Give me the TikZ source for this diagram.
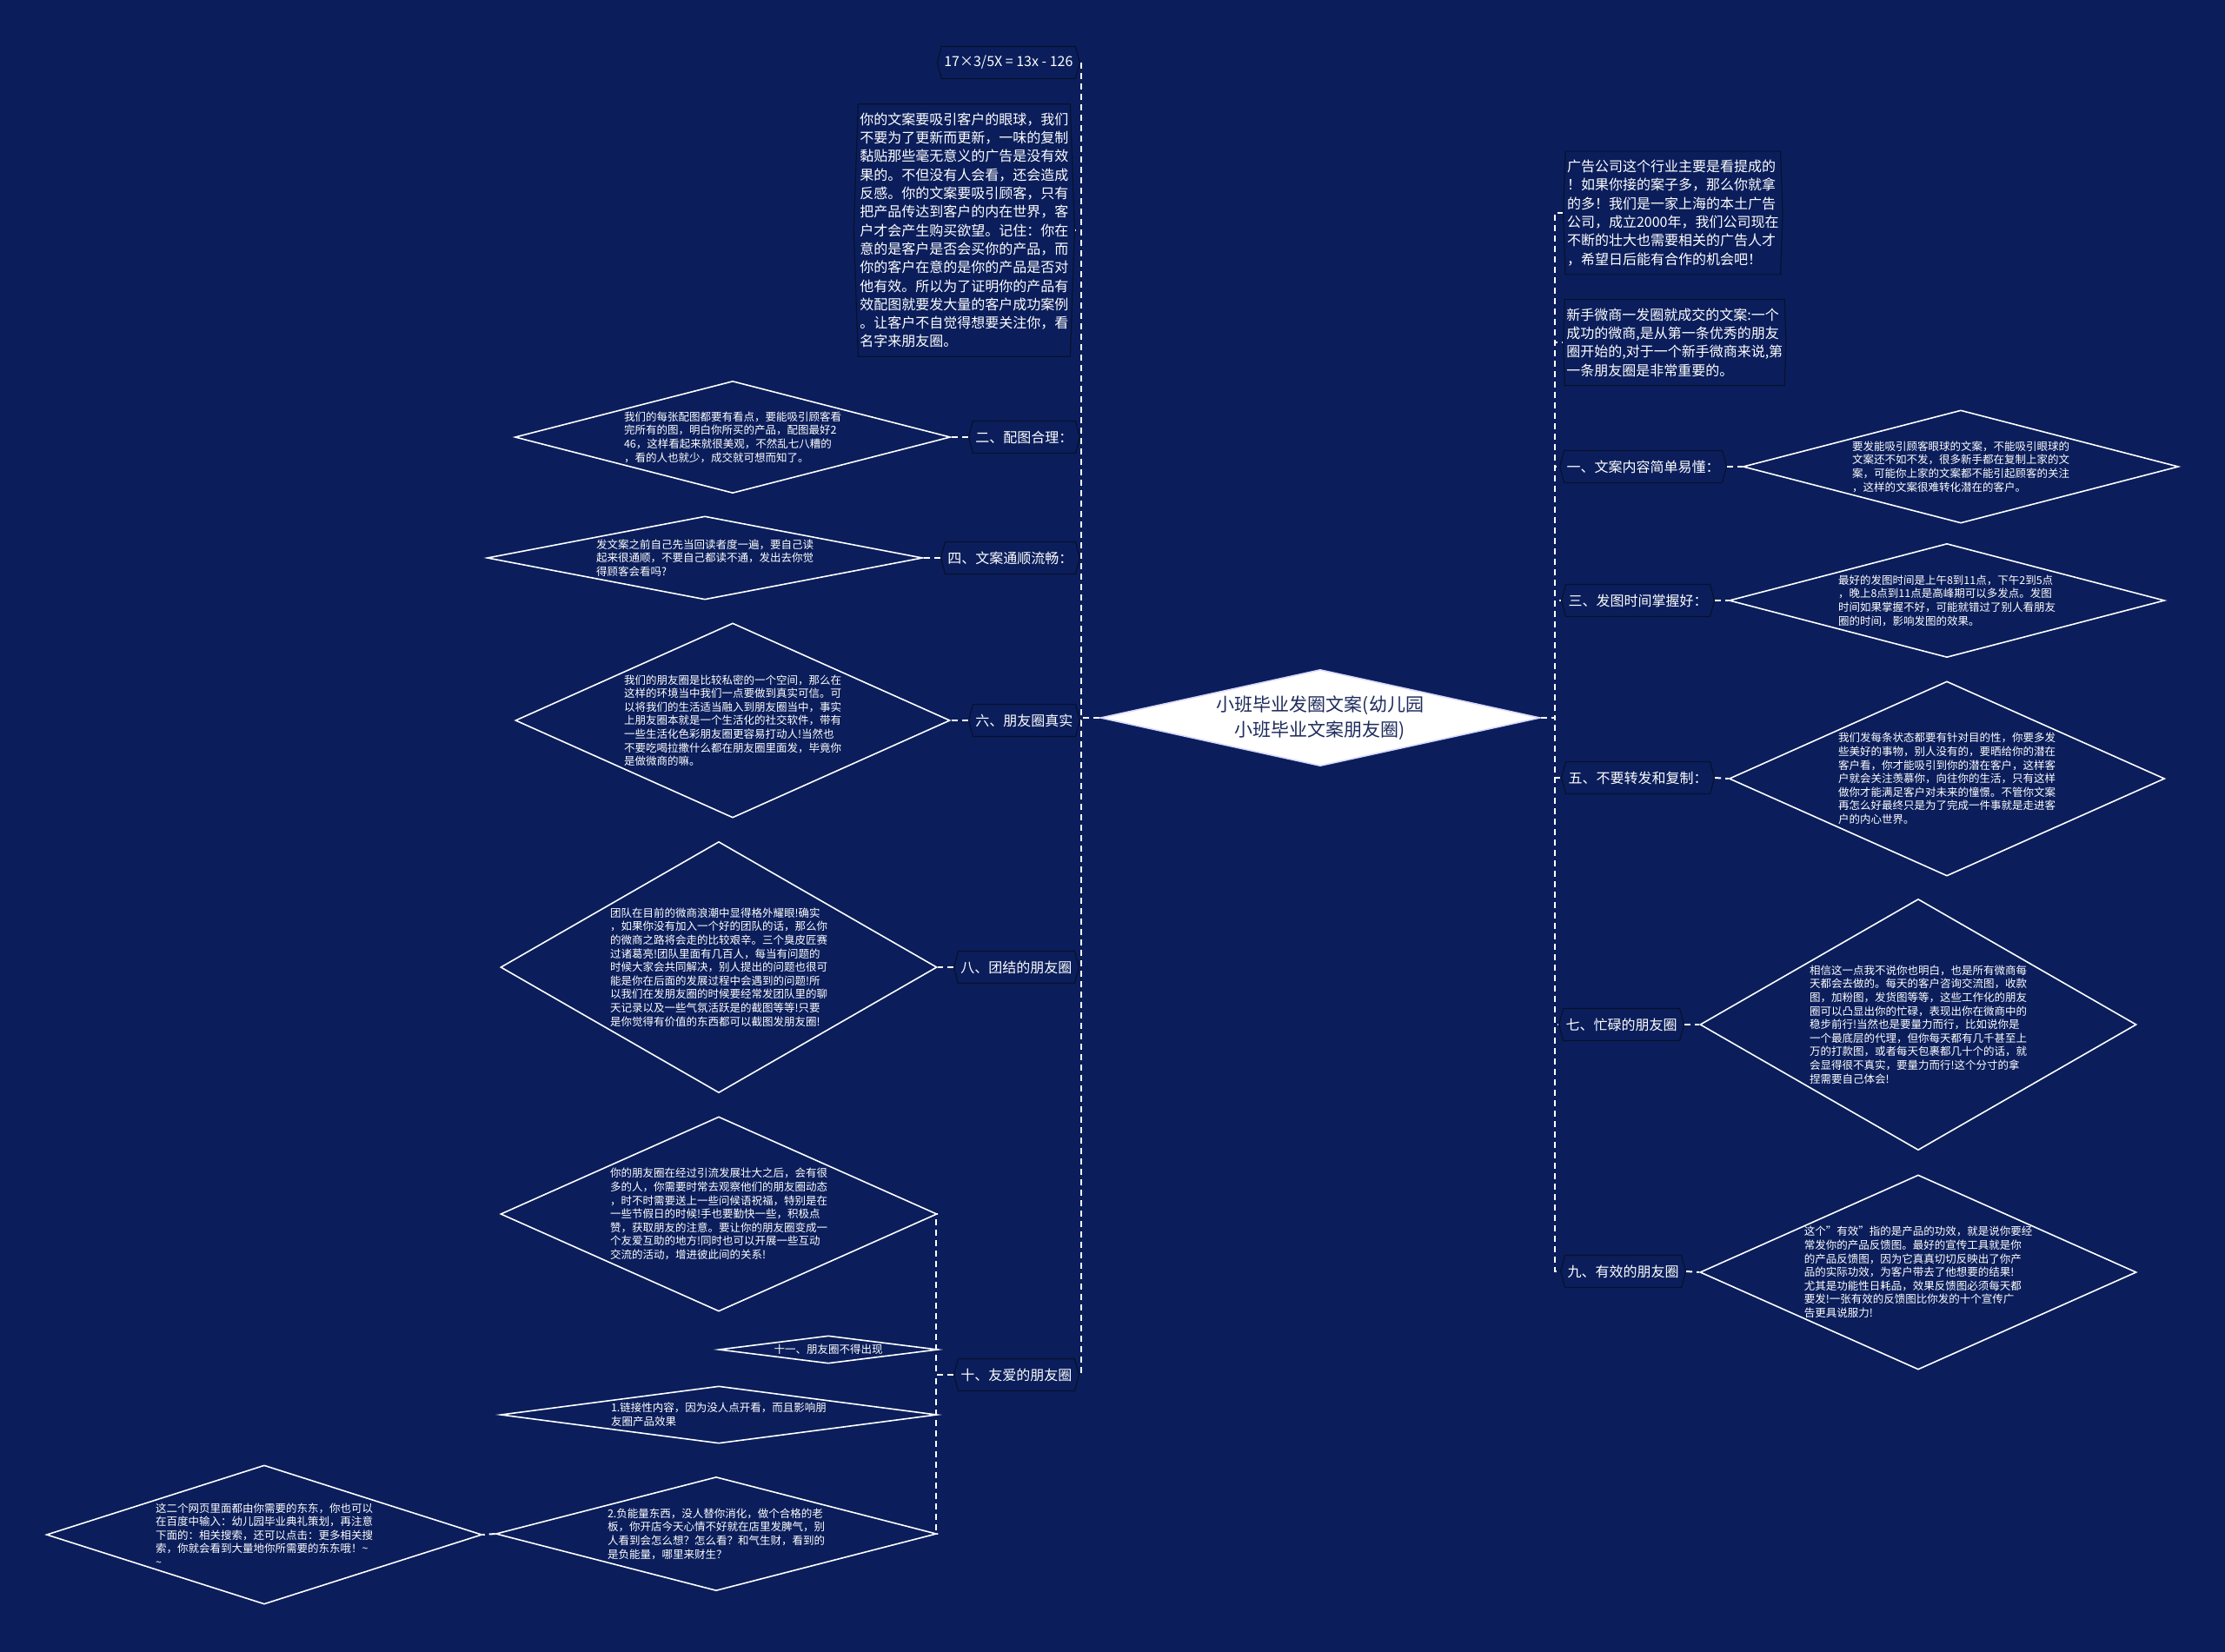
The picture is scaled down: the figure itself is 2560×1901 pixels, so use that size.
\documentclass[tikz,border=0pt]{standalone}
\usepackage{fontspec}
\setmainfont{Noto Sans CJK SC}
\usetikzlibrary{shapes.geometric,shapes.symbols}
\definecolor{bg}{HTML}{0B1E5B}
\definecolor{boxb}{HTML}{07112F}
\definecolor{roottxt}{HTML}{1E2B5C}
\begin{document}
\begin{tikzpicture}[x=0.5pt,y=-0.5pt,
 conn/.style={draw=white,line width=1pt,dash pattern=on 3.5pt off 2.5pt},
 lab/.style={shape=signal,signal to=west and east,signal pointer angle=150,draw=boxb,line width=0.6pt,fill=bg,text=white,font=\fontsize{8}{10}\selectfont,inner xsep=1.5pt,inner ysep=0pt,minimum height=18.5pt},
 bigbox/.style={shape=signal,signal to=west and east,signal pointer angle=176,draw=boxb,line width=0.6pt,fill=bg,text=white,align=left,font=\fontsize{8}{10.65}\selectfont,inner xsep=1pt,inner ysep=5pt},
 leaf/.style={shape=diamond,draw=white,line width=0.8pt,inner sep=0pt},
 leaft/.style={text=white,align=left,font=\fontsize{6.25}{7.8}\selectfont,inner sep=0pt},
 rootd/.style={shape=diamond,fill=white,draw=white!85!blue,line width=0.8pt,inner sep=0pt,minimum width=253pt,minimum height=55.5pt},
]
\fill[bg] (0,0) rectangle (2560,1901);
\useasboundingbox (0,0) rectangle (2560,1901);

% root
\node[rootd] (root) at (1519,826) {};
\node[text=roottxt,align=center,font=\fontsize{10.5}{14.5}\selectfont] at (root) {小班毕业发圈文案(幼儿园\\小班毕业文案朋友圈)};

% ---------- left side ----------
\node[lab,anchor=east] (eq) at (1243,72) {17×3/5X = 13x - 126};
\node[bigbox,anchor=east] (bigL) at (1237,265) {你的文案要吸引客户的眼球，我们\\不要为了更新而更新，一味的复制\\黏贴那些毫无意义的广告是没有效\\果的。不但没有人会看，还会造成\\反感。你的文案要吸引顾客，只有\\把产品传达到客户的内在世界，客\\户才会产生购买欲望。记住：你在\\意的是客户是否会买你的产品，而\\你的客户在意的是你的产品是否对\\他有效。所以为了证明你的产品有\\效配图就要发大量的客户成功案例\\。让客户不自觉得想要关注你，看\\名字来朋友圈。};

\node[lab,anchor=east] (l2) at (1243,503) {二、配图合理：};
\node[leaf,minimum width=250.5pt,minimum height=64.5pt] (d2) at (843,503) {};
\node[leaft] at (d2) {我们的每张配图都要有看点，要能吸引顾客看\\完所有的图，明白你所买的产品，配图最好2\\46，这样看起来就很美观，不然乱七八糟的\\，看的人也就少，成交就可想而知了。};

\node[lab,anchor=east] (l4) at (1243,642) {四、文案通顺流畅：};
\node[leaf,minimum width=250.5pt,minimum height=48pt] (d4) at (811,642) {};
\node[leaft] at (d4) {发文案之前自己先当回读者度一遍，要自己读\\起来很通顺，不要自己都读不通，发出去你觉\\得顾客会看吗?};

\node[lab,anchor=east] (l6) at (1243,829) {六、朋友圈真实};
\node[leaf,minimum width=250pt,minimum height=112pt] (d6) at (843,829) {};
\node[leaft] at (d6) {我们的朋友圈是比较私密的一个空间，那么在\\这样的环境当中我们一点要做到真实可信。可\\以将我们的生活适当融入到朋友圈当中，事实\\上朋友圈本就是一个生活化的社交软件，带有\\一些生活化色彩朋友圈更容易打动人!当然也\\不要吃喝拉撒什么都在朋友圈里面发，毕竟你\\是做微商的嘛。};

\node[lab,anchor=east] (l8) at (1242,1113) {八、团结的朋友圈};
\node[leaf,minimum width=251pt,minimum height=144.5pt] (d8) at (827,1113) {};
\node[leaft] at (d8) {团队在目前的微商浪潮中显得格外耀眼!确实\\，如果你没有加入一个好的团队的话，那么你\\的微商之路将会走的比较艰辛。三个臭皮匠赛\\过诸葛亮!团队里面有几百人，每当有问题的\\时候大家会共同解决，别人提出的问题也很可\\能是你在后面的发展过程中会遇到的问题!所\\以我们在发朋友圈的时候要经常发团队里的聊\\天记录以及一些气氛活跃是的截图等等!只要\\是你觉得有价值的东西都可以截图发朋友圈!};

\node[lab,anchor=east] (l10) at (1242,1582) {十、友爱的朋友圈};
\node[leaf,minimum width=251pt,minimum height=112pt] (da) at (827,1397) {};
\node[leaft] at (da) {你的朋友圈在经过引流发展壮大之后，会有很\\多的人，你需要时常去观察他们的朋友圈动态\\，时不时需要送上一些问候语祝福，特别是在\\一些节假日的时候!手也要勤快一些，积极点\\赞，获取朋友的注意。要让你的朋友圈变成一\\个友爱互助的地方!同时也可以开展一些互动\\交流的活动，增进彼此间的关系!};
\node[leaf,minimum width=126pt,minimum height=16pt] (db) at (953,1553) {};
\node[leaft] at (db) {十一、朋友圈不得出现};
\node[leaf,minimum width=251pt,minimum height=33pt] (dc) at (827,1628) {};
\node[leaft] at (dc) {1.链接性内容，因为没人点开看，而且影响朋\\友圈产品效果};
\node[leaf,minimum width=253.5pt,minimum height=65.5pt] (dd) at (824,1765) {};
\node[leaft] at (dd) {2.负能量东西，没人替你消化，做个合格的老\\板，你开店今天心情不好就在店里发脾气，别\\人看到会怎么想？怎么看？和气生财，看到的\\是负能量，哪里来财生？};
\node[leaf,minimum width=250.5pt,minimum height=80pt] (de) at (304,1766) {};
\node[leaft] at (de) {这二个网页里面都由你需要的东东，你也可以\\在百度中输入：幼儿园毕业典礼策划，再注意\\下面的：相关搜索，还可以点击：更多相关搜\\索，你就会看到大量地你所需要的东东哦！\textasciitilde\\\textasciitilde};

% ---------- right side ----------
\node[bigbox,anchor=west] (bigR1) at (1798,245) {广告公司这个行业主要是看提成的\\！如果你接的案子多，那么你就拿\\的多！我们是一家上海的本土广告\\公司，成立2000年，我们公司现在\\不断的壮大也需要相关的广告人才\\，希望日后能有合作的机会吧！};
\node[bigbox,anchor=west] (bigR2) at (1798,394) {新手微商一发圈就成交的文案:一个\\成功的微商,是从第一条优秀的朋友\\圈开始的,对于一个新手微商来说,第\\一条朋友圈是非常重要的。};

\node[lab,anchor=west] (r1) at (1794,537) {一、文案内容简单易懂：};
\node[leaf,minimum width=250.5pt,minimum height=65pt] (e1) at (2256,537) {};
\node[leaft] at (e1) {要发能吸引顾客眼球的文案，不能吸引眼球的\\文案还不如不发，很多新手都在复制上家的文\\案，可能你上家的文案都不能引起顾客的关注\\，这样的文案很难转化潜在的客户。};

\node[lab,anchor=west] (r3) at (1796,691) {三、发图时间掌握好：};
\node[leaf,minimum width=250.5pt,minimum height=65.5pt] (e3) at (2240,691) {};
\node[leaft] at (e3) {最好的发图时间是上午8到11点，下午2到5点\\，晚上8点到11点是高峰期可以多发点。发图\\时间如果掌握不好，可能就错过了别人看朋友\\圈的时间，影响发图的效果。};

\node[lab,anchor=west] (r5) at (1796,895) {五、不要转发和复制：};
\node[leaf,minimum width=250.5pt,minimum height=112pt] (e5) at (2240,896) {};
\node[leaft] at (e5) {我们发每条状态都要有针对目的性，你要多发\\些美好的事物，别人没有的，要晒给你的潜在\\客户看，你才能吸引到你的潜在客户，这样客\\户就会关注羡慕你，向往你的生活，只有这样\\做你才能满足客户对未来的憧憬。不管你文案\\再怎么好最终只是为了完成一件事就是走进客\\户的内心世界。};

\node[lab,anchor=west] (r7) at (1793,1179) {七、忙碌的朋友圈};
\node[leaf,minimum width=251pt,minimum height=144.5pt] (e7) at (2207,1179) {};
\node[leaft] at (e7) {相信这一点我不说你也明白，也是所有微商每\\天都会去做的。每天的客户咨询交流图，收款\\图，加粉图，发货图等等，这些工作化的朋友\\圈可以凸显出你的忙碌，表现出你在微商中的\\稳步前行!当然也是要量力而行，比如说你是\\一个最底层的代理，但你每天都有几千甚至上\\万的打款图，或者每天包裹都几十个的话，就\\会显得很不真实，要量力而行!这个分寸的拿\\捏需要自己体会!};

\node[lab,anchor=west] (r9) at (1795,1463) {九、有效的朋友圈};
\node[leaf,minimum width=251pt,minimum height=112pt] (e9) at (2207,1464) {};
\node[leaft] at (e9) {这个"有效"指的是产品的功效，就是说你要经\\常发你的产品反馈图。最好的宣传工具就是你\\的产品反馈图，因为它真真切切反映出了你产\\品的实际功效，为客户带去了他想要的结果!\\尤其是功能性日耗品，效果反馈图必须每天都\\要发!一张有效的反馈图比你发的十个宣传广\\告更具说服力!};

% ---------- connectors ----------
\foreach \n in {eq,bigL,l2,l4,l6,l8,l10}
  \draw[conn] (root.west) -- ++(-21,0) |- (\n.east);
\foreach \n in {bigR1,bigR2,r1,r3,r5,r7,r9}
  \draw[conn] (root.east) -- ++(16,0) |- (\n.west);
\draw[conn] (l2.west) -- (d2.east);
\draw[conn] (l4.west) -- (d4.east);
\draw[conn] (l6.west) -- (d6.east);
\draw[conn] (l8.west) -- (d8.east);
\foreach \n in {da,db,dc,dd}
  \draw[conn] (l10.west) -- ++(-20,0) |- (\n.east);
\draw[conn] (dd.west) -- (de.east);
\draw[conn] (r1.east) -- (e1.west);
\draw[conn] (r3.east) -- (e3.west);
\draw[conn] (r5.east) -- (e5.west);
\draw[conn] (r7.east) -- (e7.west);
\draw[conn] (r9.east) -- (e9.west);
\end{tikzpicture}
\end{document}
